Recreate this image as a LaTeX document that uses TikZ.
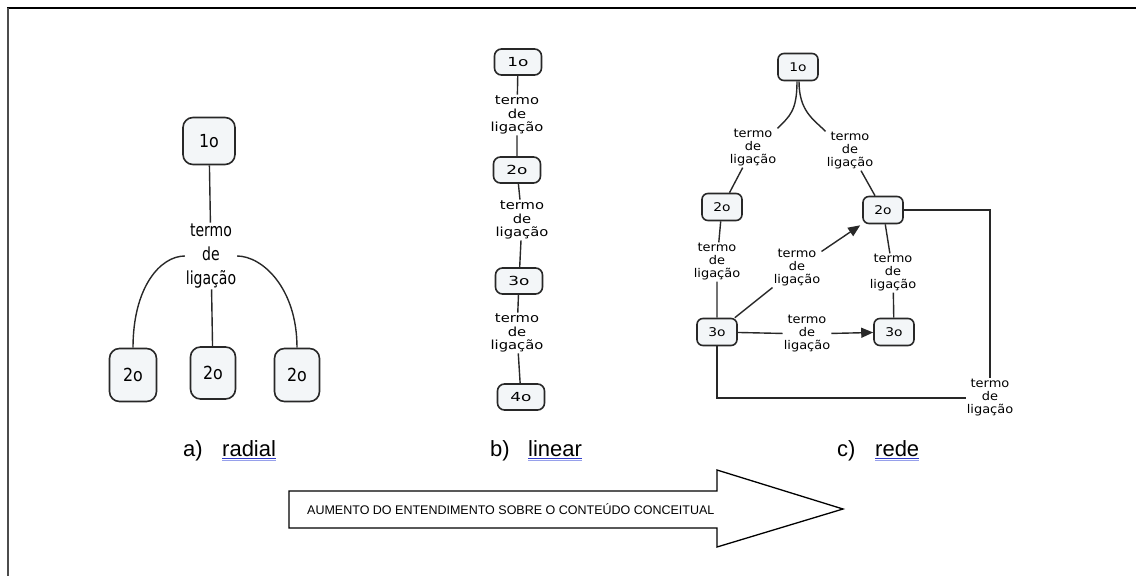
\documentclass[tikz,border=0pt]{standalone}
\usepackage{graphicx}
\usepackage{fontspec}
\setmainfont{DejaVu Sans}
\newfontfamily\capfont{Liberation Sans}
\usetikzlibrary{arrows.meta,calc}
\definecolor{boxfill}{RGB}{243,246,248}
\definecolor{boxline}{RGB}{40,40,40}
\definecolor{ulblue}{RGB}{50,60,200}
\definecolor{ulbluel}{RGB}{150,160,235}
\newcommand{\hs}[2]{\scalebox{#1}[1]{#2}}
\begin{document}
\begin{tikzpicture}[x=1pt,y=-1pt,
  cbox/.style={draw=boxline, fill=boxfill, line width=1.6pt, inner sep=0pt, align=center},
  radbox/.style={cbox, rounded corners=10pt, font=\fontsize{18}{20}\selectfont},
  linbox/.style={cbox, minimum width=47pt, minimum height=26pt, rounded corners=7pt, font=\fontsize{12.5}{14}\selectfont},
  netbox/.style={cbox, minimum width=40pt, minimum height=27pt, rounded corners=6pt, font=\fontsize{12}{14}\selectfont},
  radlbl/.style={align=center, inner sep=1pt, xscale=0.78, font=\fontsize{18}{24}\selectfont},
  linlbl/.style={align=center, inner sep=1pt, xscale=1.18, font=\fontsize{12.5}{13.5}\selectfont},
  netlbl/.style={align=center, inner sep=1pt, xscale=1.08, font=\fontsize{12}{13}\selectfont},
  conn/.style={line width=1.4pt, draw=boxline},
  arr/.style={conn, -{Triangle[length=12pt,width=10pt]}},
  captxt/.style={anchor=base west, inner sep=0pt, font=\capfont\fontsize{22}{24}\selectfont},
]
\useasboundingbox (0,0) rectangle (1144,576);
% frame
\draw[line width=1.5pt, black] (7,8) -- (1136,8);
\draw[line width=1.8pt, black!70] (8,8) -- (8,576);

% ---------- radial ----------
\node[radbox, minimum width=52pt, minimum height=47pt] (r1) at (209,141) {\hs{0.88}{1o}};
\node[radlbl] (rl) at (211,256) {termo\\de\\ligação};
\node[radbox, minimum width=47pt, minimum height=53pt] (r2a) at (133,375) {\hs{0.88}{2o}};
\node[radbox, minimum width=45pt, minimum height=52pt] (r2b) at (213,373) {\hs{0.88}{2o}};
\node[radbox, minimum width=45pt, minimum height=53pt] (r2c) at (297,375) {\hs{0.88}{2o}};
\draw[conn] (r1) -- (rl);
\draw[conn] (rl) -- (r2b);
\draw[conn] (r2a.north) .. controls +(0,-60) and +(-25,0) .. (rl.west);
\draw[conn] (r2c.north) .. controls +(0,-60) and +(25,0) .. (rl.east);

% ---------- linear ----------
\node[linbox] (l1) at (518,62) {\hs{1.35}{1o}};
\node[linlbl] (ll1) at (517,115) {termo\\de\\ligação};
\node[linbox] (l2) at (517,170) {\hs{1.35}{2o}};
\node[linlbl] (ll2) at (522,220) {termo\\de\\ligação};
\node[linbox] (l3) at (519,281) {\hs{1.35}{3o}};
\node[linlbl] (ll3) at (517,333) {termo\\de\\ligação};
\node[linbox] (l4) at (521,397) {\hs{1.35}{4o}};
\draw[conn] (l1) -- (ll1);
\draw[conn] (ll1) -- (l2);
\draw[conn] (l2) -- (ll2);
\draw[conn] (ll2) -- (l3);
\draw[conn] (l3) -- (ll3);
\draw[conn] (ll3) -- (l4);

% ---------- network ----------
\node[netbox] (n1) at (798,67) {\hs{1.15}{1o}};
\node[netlbl] (nl1) at (753,148) {termo\\de\\ligação};
\node[netlbl] (nl2) at (850,151) {termo\\de\\ligação};
\node[netbox] (n2a) at (722,207) {\hs{1.15}{2o}};
\node[netbox] (n2b) at (883,210) {\hs{1.15}{2o}};
\node[netlbl] (nl3) at (717,262) {termo\\de\\ligação};
\node[netlbl] (nl4) at (797,268) {termo\\de\\ligação};
\node[netlbl] (nl6) at (893,273) {termo\\de\\ligação};
\node[netbox] (n3a) at (717,332) {\hs{1.15}{3o}};
\node[netlbl] (nl5) at (807,334) {termo\\de\\ligação};
\node[netbox] (n3b) at (894,332) {\hs{1.15}{3o}};
\node[netlbl] (nl7) at (990,398) {termo\\de\\ligação};
\draw[conn] ([xshift=-1pt]n1.south) .. controls +(0,30) and +(12,-12) .. (nl1.north east);
\draw[conn] ([xshift=1pt]n1.south) .. controls +(0,30) and +(-12,-12) .. (nl2.north west);
\draw[conn] (nl1) -- (n2a);
\draw[conn] (nl2) -- (n2b);
\draw[conn] (n2a) -- (nl3);
\draw[conn] (nl3) -- (n3a);
\draw[conn] (n3a) -- (nl4);
\draw[arr] (nl4) -- ([xshift=-2pt,yshift=-1pt]n2b.south west);
\draw[conn] (n3a) -- (nl5);
\draw[arr] (nl5) -- (n3b);
\draw[conn] (n2b) -- (nl6);
\draw[conn] (nl6) -- (n3b);
\draw[conn] (n2b.east) -| (nl7.north);
\draw[conn] (n3a.south) |- (nl7.west);

% ---------- captions ----------
\node[captxt] (ca) at (183,456) {a)};
\node[captxt] (cat) at (222,456) {radial};
\node[captxt] (cb) at (490,456) {b)};
\node[captxt] (cbt) at (528,456) {linear};
\node[captxt] (cc) at (837,456) {c)};
\node[captxt] (cct) at (875,456) {rede};
\foreach \n in {cat,cbt,cct}{
  \draw[ulblue, line width=0.8pt] ($(\n.base west)+(0,2.5)$) -- ($(\n.base east)+(0,2.5)$);
  \draw[ulbluel, line width=0.8pt] ($(\n.base west)+(0,4.2)$) -- ($(\n.base east)+(0,4.2)$);
}

% ---------- big arrow ----------
\draw[line width=1.3pt, fill=white] (289,491) -- (717,491) -- (717,470) -- (843,509) -- (717,547) -- (717,528) -- (289,528) -- cycle;
\node[anchor=west, inner sep=0pt, font=\capfont\fontsize{12.5}{14}\selectfont] (at) at (307,509) {AUMENTO DO ENTENDIMENTO SOBRE O CONTEÚDO CONCEITUAL};
\end{tikzpicture}
\end{document}
